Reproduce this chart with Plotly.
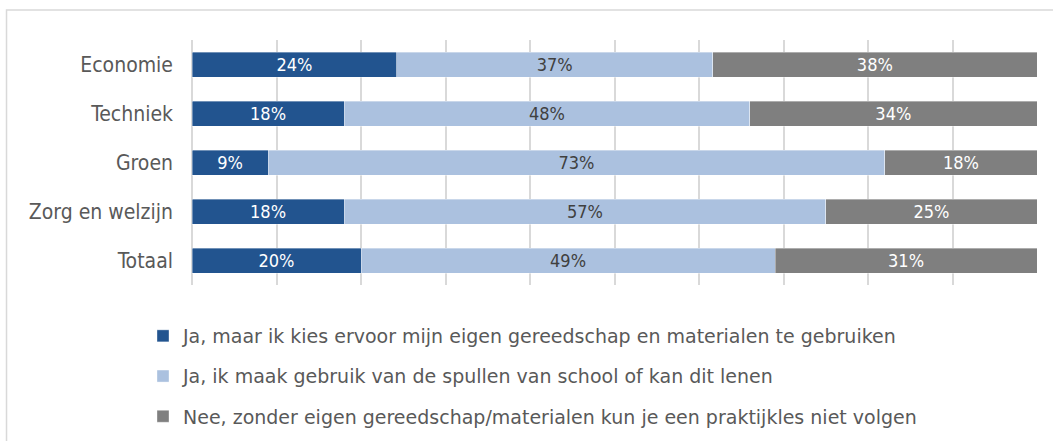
import plotly.graph_objects as go

categories = ["Economie", "Techniek", "Groen", "Zorg en welzijn", "Totaal"]
series_names = [
    "Ja, maar ik kies ervoor mijn eigen gereedschap en materialen te gebruiken",
    "Ja, ik maak gebruik van de spullen van school of kan dit lenen",
    "Nee, zonder eigen gereedschap/materialen kun je een praktijkles niet volgen",
]
eigen = [24, 18, 9, 18, 20]
school = [37, 48, 73, 57, 49]
nee = [38, 34, 18, 25, 31]

colors = ["#22548F", "#ABC1DF", "#7F7F7F"]
text_colors = ["#FFFFFF", "#404040", "#FFFFFF"]
FONT = "DejaVu Sans Condensed, DejaVu Sans, sans-serif"
LEGEND_FONT = "DejaVu Sans, sans-serif"

fig = go.Figure()
for i, (name, vals) in enumerate(zip(series_names, [eigen, school, nee])):
    fig.add_trace(go.Bar(
        y=categories, x=vals, name=name, orientation="h",
        marker=dict(color=colors[i], line=dict(color="rgba(255,255,255,0.6)", width=0.6)),
        text=[f"{v}%" for v in vals], texttemplate="%{text}",
        textposition="inside", insidetextanchor="middle", textangle=0,
        textfont=dict(family=FONT, size=18, color=text_colors[i]),
        legendgroup=f"g{i}", hoverinfo="skip",
    ))

fig.update_layout(
    width=1053, height=441,
    margin=dict(l=192, r=16, t=40, b=156, autoexpand=False),
    barmode="stack", barnorm="percent", bargap=0.49,
    paper_bgcolor="white", plot_bgcolor="white",
    font=dict(family=FONT, color="#595959"),
    uniformtext=dict(minsize=18, mode="show"),
    showlegend=True,
    legend=dict(
        orientation="v", xref="container", yref="container",
        x=143 / 1053, xanchor="left", y=1 - 317 / 441, yanchor="top",
        font=dict(family=LEGEND_FONT, size=19, color="#595959"),
        tracegroupgap=12.5, traceorder="grouped", bgcolor="rgba(0,0,0,0)",
    ),
    xaxis=dict(range=[0, 100], dtick=10, showticklabels=False, showgrid=True,
               gridcolor="#D9D9D9", gridwidth=1.5, zeroline=True,
               zerolinecolor="#D9D9D9", zerolinewidth=1.5, showline=False,
               fixedrange=True),
    yaxis=dict(autorange="reversed", tickfont=dict(family=FONT, size=21, color="#595959"),
               ticklabelstandoff=18, showgrid=False, showline=False, zeroline=False),
    shapes=[dict(type="rect", xref="paper", yref="paper",
                 x0=-0.2195, x1=1.03, y0=-0.8, y1=1.1224,
                 line=dict(color="#D9D9D9", width=1.5), fillcolor="rgba(0,0,0,0)",
                 layer="below")],
)

fig.write_html("out.html")
